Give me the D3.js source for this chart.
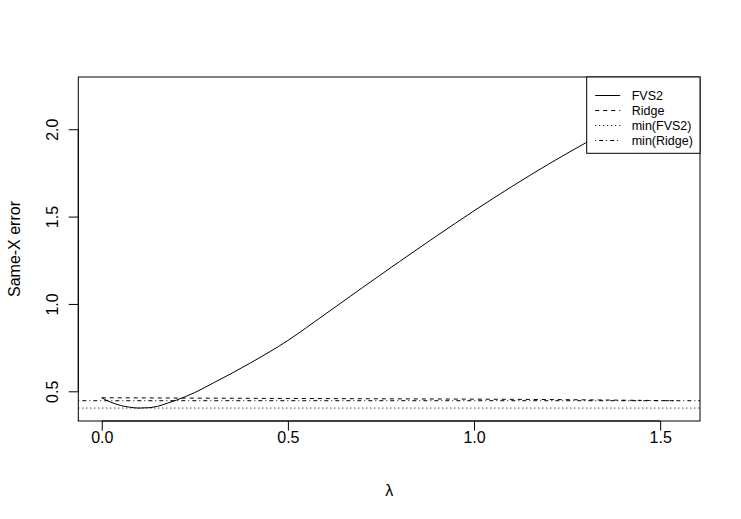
<!DOCTYPE html>
<html>
<head>
<meta charset="utf-8">
<script src="https://cdn.jsdelivr.net/npm/d3@7"></script>
<style>
	body { margin: 0; background: #fff; }
	svg { display: block; font-family: 'Liberation Sans', Arial, sans-serif; }
	.tick line, .axis-line { stroke: #000; }
	.tick text { fill: #000; font-size: 16px; }
</style>
</head>
<body>
<div id="chart"></div>
<script>
// lambda grid and errors
const lambda = [0, 0.025, 0.05, 0.075, 0.1, 0.125, 0.15, 0.175, 0.2, 0.25, 0.3, 0.35, 0.4, 0.5, 0.6, 0.7, 0.8, 0.9, 1.0, 1.1, 1.2, 1.3, 1.4, 1.5, 1.546];
const fvs2 = [0.463, 0.437, 0.419, 0.409, 0.404, 0.406, 0.414, 0.431, 0.449, 0.493, 0.548, 0.604, 0.663, 0.791, 0.941, 1.093, 1.243, 1.39, 1.533, 1.67, 1.8, 1.922, 2.037, 2.147, 2.197];
const ridgeLambda = [0, 0.25, 0.5, 0.75, 1.0, 1.25, 1.4, 1.546];
const ridge = [0.463, 0.461, 0.459, 0.457, 0.455, 0.452, 0.449, 0.446];

const xTicks = [0, 0.5, 1.0, 1.5];
const yTicks = [0.5, 1.0, 1.5, 2.0];
const legendLabels = ['FVS2', 'Ridge', 'min(FVS2)', 'min(Ridge)'];

const width = 741;
const height = 519;
const plot = { left: 78.3, right: 700, top: 77, bottom: 421 };
const dashes = ['none', '4,4', '1,3', '1,3,4,3'];

const minFvs2 = d3.min(fvs2);
const minRidge = d3.min(ridge);

const x = d3.scaleLinear().domain([-0.063, 1.607]).range([plot.left, plot.right]);
const y = d3.scaleLinear().domain([0.33, 2.299]).range([plot.bottom, plot.top]);

const $svg = d3.select('#chart').append('svg')
	.attr('width', width)
	.attr('height', height);

$svg.append('clipPath').attr('id', 'clip')
	.append('rect')
	.attr('x', plot.left)
	.attr('y', plot.top)
	.attr('width', plot.right - plot.left)
	.attr('height', plot.bottom - plot.top);

const $g = $svg.append('g').attr('clip-path', 'url(#clip)');

const line = d3.line()
	.x(d => x(d[0]))
	.y(d => y(d[1]))
	.curve(d3.curveMonotoneX);

$g.append('path')
	.datum(d3.zip(lambda, fvs2))
	.attr('d', line)
	.attr('fill', 'none')
	.attr('stroke', '#000')
	.attr('stroke-width', 1);

$g.append('path')
	.datum(d3.zip(ridgeLambda, ridge))
	.attr('d', line)
	.attr('fill', 'none')
	.attr('stroke', '#000')
	.attr('stroke-width', 1)
	.attr('stroke-dasharray', dashes[1]);

// horizontal reference lines
$g.selectAll('.hline')
	.data([minFvs2, minRidge])
	.join('line')
	.attr('class', 'hline')
	.attr('x1', plot.left)
	.attr('x2', plot.right)
	.attr('y1', d => y(d))
	.attr('y2', d => y(d))
	.attr('stroke', '#000')
	.attr('stroke-width', 1)
	.attr('stroke-dasharray', (d, i) => dashes[i + 2]);

// box
$svg.append('rect')
	.attr('x', plot.left)
	.attr('y', plot.top)
	.attr('width', plot.right - plot.left)
	.attr('height', plot.bottom - plot.top)
	.attr('fill', 'none')
	.attr('stroke', '#000');

// x axis
const $xAxis = $svg.append('g')
	.attr('transform', `translate(0, ${plot.bottom})`)
	.call(d3.axisBottom(x).tickValues(xTicks).tickSize(9.6).tickSizeOuter(0).tickPadding(1).tickFormat(d3.format('.1f')));
$xAxis.select('.domain').remove();
$xAxis.selectAll('.tick text').attr('font-family', null).attr('font-size', null);
$xAxis.append('line')
	.attr('class', 'axis-line')
	.attr('x1', x(xTicks[0]))
	.attr('x2', x(xTicks[xTicks.length - 1]));

// y axis
const $yAxis = $svg.append('g')
	.attr('transform', `translate(${plot.left}, 0)`)
	.call(d3.axisLeft(y).tickValues(yTicks).tickSize(9.6).tickSizeOuter(0).tickFormat(d3.format('.1f')));
$yAxis.select('.domain').remove();
$yAxis.selectAll('.tick text')
	.attr('font-family', null)
	.attr('font-size', null)
	.attr('x', null)
	.attr('dy', null)
	.attr('text-anchor', 'middle')
	.attr('transform', 'translate(-20.3, 0) rotate(-90)');
$yAxis.append('line')
	.attr('class', 'axis-line')
	.attr('y1', y(yTicks[0]))
	.attr('y2', y(yTicks[yTicks.length - 1]));

// axis titles
$svg.append('text')
	.attr('x', (plot.left + plot.right) / 2)
	.attr('y', 496)
	.attr('text-anchor', 'middle')
	.attr('font-size', 16)
	.text('λ');

$svg.append('text')
	.attr('transform', `translate(20, ${(plot.top + plot.bottom) / 2}) rotate(-90)`)
	.attr('text-anchor', 'middle')
	.attr('font-size', 16)
	.text('Same-X error');

// legend, top right
const legendW = 113.3;
const legendH = 76.3;
const $legend = $svg.append('g')
	.attr('transform', `translate(${plot.right - legendW}, ${plot.top})`);
$legend.append('rect')
	.attr('width', legendW)
	.attr('height', legendH)
	.attr('fill', '#fff')
	.attr('stroke', '#000');

const $row = $legend.selectAll('.row')
	.data(legendLabels)
	.join('g')
	.attr('class', 'row')
	.attr('transform', (d, i) => `translate(0, ${18.5 + i * 15})`);
$row.append('line')
	.attr('x1', 8.5)
	.attr('x2', 33.5)
	.attr('stroke', '#000')
	.attr('stroke-dasharray', (d, i) => dashes[i]);
$row.append('text')
	.attr('x', 45)
	.attr('dy', '0.35em')
	.attr('font-size', 12.5)
	.text(d => d);
</script>
</body>
</html>
